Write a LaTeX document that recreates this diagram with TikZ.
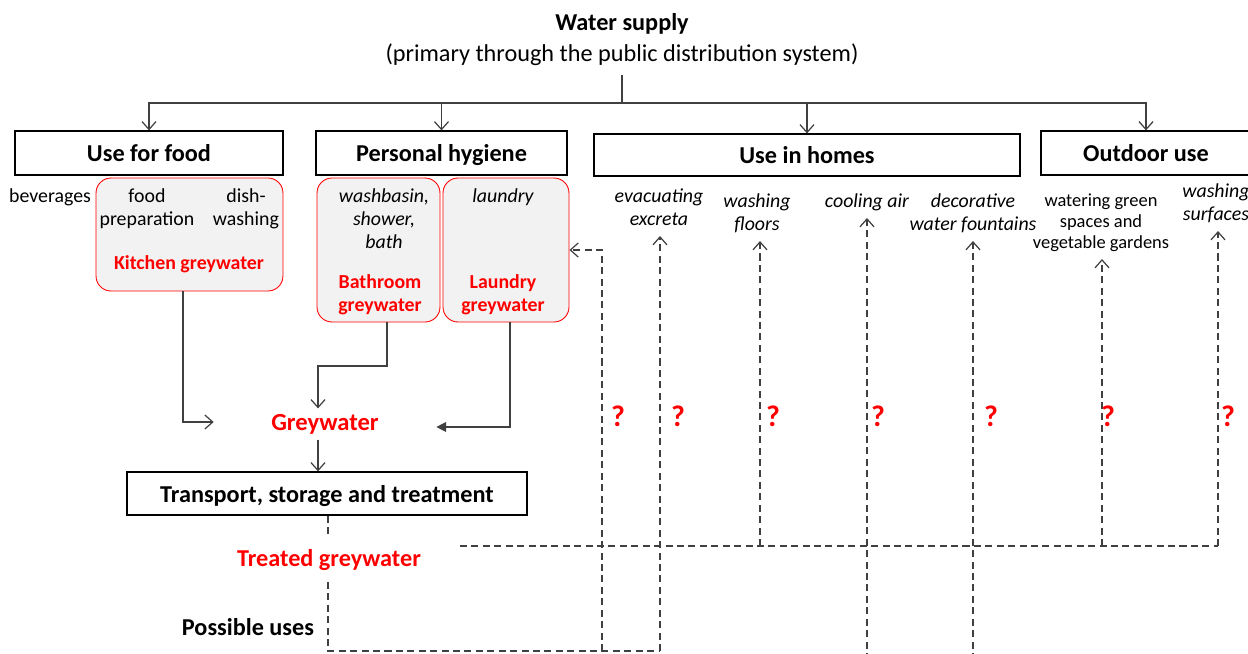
\documentclass[tikz,border=0pt]{standalone}
\usepackage{fontspec}
\setmainfont{Carlito}
\usetikzlibrary{arrows.meta}
\definecolor{wred}{HTML}{FF0000}
\definecolor{wline}{HTML}{404040}
\definecolor{wfill}{HTML}{F2F2F2}
\newcommand{\bigfs}{\fontsize{13.8}{16}\selectfont}
\newcommand{\smallfs}{\fontsize{11.3}{13}\selectfont}
\tikzset{
  header/.style={draw=black, line width=0.7pt, font=\bigfs\bfseries, inner sep=0pt, text height=9.7pt, text depth=0pt},
  greybox/.style={draw=wred, fill=wfill, rounded corners=0.3cm, line width=0.5pt, inner sep=0pt},
  usetext/.style={font=\smallfs, align=center, inner sep=0pt, text depth=0pt, anchor=south},
  smallred/.style={text=wred, font=\smallfs\bfseries, align=center, inner sep=0pt},
  bigred/.style={text=wred, font=\bigfs\bfseries, inner sep=0pt},
  qmark/.style={text=wred, font=\fontsize{17}{19}\selectfont\bfseries, inner sep=0pt},
  conn/.style={draw=wline, line width=0.7pt},
  dsh/.style={draw=wline, line width=0.7pt, dash pattern=on 4pt off 2.5pt},
  barb/.style={-{Straight Barb[length=4.5pt,width=8pt]}},
  tri/.style={-{Triangle[length=5.5pt,width=5.5pt]}}
}
\begin{document}
\begin{tikzpicture}[x=0.02cm, y=-0.02cm]
  \useasboundingbox (0,0) rectangle (1248,653);
  \clip (0,0) rectangle (1248,653);
  % water supply
  \node[font=\bigfs\bfseries] (supply) at (622,24) {Water supply};
  \node[font=\bigfs, inner sep=0pt, text depth=0pt, anchor=south] (supplysub) at (622,62) {(primary through the public distribution system)};
  \coordinate (split) at (622,103);
  % the four uses
  \node[header, minimum width=5.36cm, minimum height=0.88cm] (food) at (149,153) {Use for food};
  \node[header, minimum width=5.02cm, minimum height=0.88cm] (hygiene) at (441.5,153) {Personal hygiene};
  \node[header, minimum width=8.52cm, minimum height=0.84cm] (homes) at (807,155) {Use in homes};
  \node[header, minimum width=4.2cm, minimum height=0.88cm] (outdoor) at (1146,153) {Outdoor use};
  \draw[conn] ([yshift=-0.26cm]supplysub.south) -- (split);
  \draw[conn,barb] (split) -| (food.north);
  \draw[conn,barb] (split) -| (hygiene.north);
  \draw[conn,barb] (split) -| (homes.north);
  \draw[conn,barb] (split) -| (outdoor.north);
  % greywater sources
  \node[greybox, minimum width=3.74cm, minimum height=2.26cm] (kitchen) at (189.5,234.5) {};
  \node[greybox, minimum width=2.46cm, minimum height=2.88cm] (bath) at (378.5,250) {};
  \node[greybox, minimum width=2.52cm, minimum height=2.88cm] (laundry) at (506,250) {};
  \node[usetext] (beverages) at (50,203) {beverages};
  \node[usetext] (prep) at (147,226) {food\\preparation};
  \node[usetext] (dish) at (246,226) {dish-\\washing};
  \node[smallred] (kitchenlbl) at (189,264) {Kitchen greywater};
  \node[usetext, font=\smallfs\itshape] (basin) at (384,249) {washbasin,\\shower,\\bath};
  \node[smallred] (bathlbl) at (380,294.5) {Bathroom\\greywater};
  \node[usetext, font=\smallfs\itshape] (laundrytxt) at (503,203) {laundry};
  \node[smallred] (laundrylbl) at (503,294.5) {Laundry\\greywater};
  % uses in homes and outdoors
  \node[usetext, font=\smallfs\itshape] (excreta) at (659,226) {evacuating\\excreta};
  \node[usetext, font=\smallfs\itshape] (floors) at (757,231) {washing\\floors};
  \node[usetext, font=\smallfs\itshape] (cooling) at (867,208) {cooling air};
  \node[usetext, font=\smallfs\itshape] (fountains) at (973,231) {decorative\\water fountains};
  \node[usetext, font=\fontsize{10.5}{12}\selectfont] (gardens) at (1101,249) {watering green\\spaces and\\vegetable gardens};
  \node[usetext, font=\smallfs\itshape] (surfaces) at (1216,221) {washing\\surfaces};
  % greywater and treatment
  \node[bigred, font=\fontsize{14}{16}\selectfont\bfseries, inner xsep=32.6pt, inner ysep=3pt] (grey) at (325,424) {Greywater};
  \coordinate (gx) at (318,0);
  \coordinate (kb) at (183,422);
  \coordinate (bb) at (387,366);
  \coordinate (lb) at (510,427);
  \draw[conn,barb] (kitchen.south -| kb) -- (kb) -- (grey.west |- kb);
  \draw[conn,barb] (bath.south -| bb) -- (bb) -| (grey.north -| gx);
  \draw[conn,tri] (laundry.south -| lb) -- (lb) -- (grey.east |- lb);
  \node[header, minimum width=8cm, minimum height=0.86cm] (trans) at (327,493.5) {Transport, storage and treatment};
  \draw[conn,barb] (grey.south -| gx) -- (trans.north -| gx);
  \node[bigred, minimum height=0.86cm] (treated) at (329,560) {Treated greywater};
  \node[font=\bigfs\bfseries] (possible) at (248,627) {Possible uses};
  % possible uses of treated greywater
  \coordinate (b0) at (328,651);
  \coordinate (b1) at (602,651);
  \coordinate (b2) at (660,651);
  \coordinate (h0) at (460,546);
  \coordinate (h1) at (760,546);
  \coordinate (h2) at (1102,546);
  \coordinate (h3) at (1218,546);
  \coordinate (c1) at (867,660);
  \coordinate (c2) at (973,660);
  \draw[dsh] (trans.south -| b0) -- (treated.north -| b0);
  \draw[dsh] (treated.south -| b0) -- (b0) -- (b2);
  \draw[dsh,barb] (b1) |- (laundry.east);
  \draw[dsh,barb,shorten >=5.7pt] (b2) -- (excreta.south -| b2);
  \draw[dsh] (h0) -- (h3);
  \draw[dsh,barb,shorten >=5.7pt] (h1) -- (floors.south -| h1);
  \draw[dsh,barb,shorten >=5.7pt] (c1) -- (cooling.south -| c1);
  \draw[dsh,barb,shorten >=5.7pt] (c2) -- (fountains.south -| c2);
  \draw[dsh,barb,shorten >=5.7pt] (h2) -- (gardens.south -| h2);
  \draw[dsh,barb,shorten >=5.7pt] (h3) -- (surfaces.south -| h3);
  \node[qmark] (q1) at (618,416) {?};
  \node[qmark] (q2) at (678,416) {?};
  \node[qmark] (q3) at (773,416) {?};
  \node[qmark] (q4) at (878,416) {?};
  \node[qmark] (q5) at (991,416) {?};
  \node[qmark] (q6) at (1108,416) {?};
  \node[qmark] (q7) at (1228,416) {?};
\end{tikzpicture}
\end{document}
